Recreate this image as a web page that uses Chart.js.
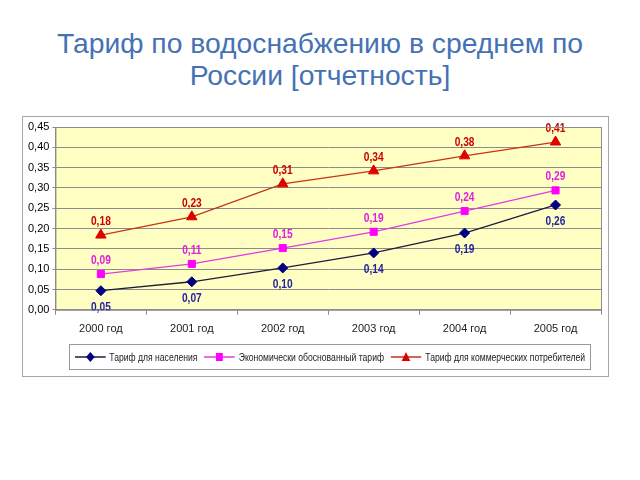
<!DOCTYPE html>
<html>
<head>
<meta charset="utf-8">
<script src="https://cdn.jsdelivr.net/npm/chart.js@4/dist/chart.umd.min.js"></script>
<style>
  body { margin: 0; width: 640px; height: 480px; background: #fff; font-family: "Liberation Sans", Arial, sans-serif; position: relative; overflow: hidden; }
  #title { position: absolute; left: 0; top: 27px; width: 640px; text-align: center; color: #4472b4; font-size: 28.3px; line-height: 32px; }
  #box { position: absolute; left: 22px; top: 116px; width: 585px; height: 259px; border: 1px solid #a6a6a6; background: #fff; }
  #legend { position: absolute; left: 46px; top: 227px; width: 520px; height: 24px; border: 1px solid #999; font-size: 10px; color: #222; }
  #legendInner { position: absolute; left: 50%; top: 50%; transform: translate(-50%, -50%) scaleX(0.86); display: flex; align-items: center; white-space: nowrap; }
  #legend span.item { display: inline-flex; align-items: center; margin: 0 4px; }
  #legend svg { margin-right: 4px; }
</style>
</head>
<body>
<div id="title">Тариф по водоснабжению в среднем по<br>России [отчетность]</div>
<div id="box">
  <canvas id="chart" width="585" height="259"></canvas>
  <div id="legend"><div id="legendInner"></div></div>
</div>
<script>
  const years = ["2000 год", "2001 год", "2002 год", "2003 год", "2004 год", "2005 год"]
  const tariffPopulation = [0.047, 0.069, 0.103, 0.140, 0.189, 0.258]
  const tariffEconomic = [0.088, 0.113, 0.152, 0.192, 0.243, 0.294]
  const tariffCommercial = [0.184, 0.229, 0.310, 0.342, 0.379, 0.413]
  const seriesNames = ["Тариф для населения", "Экономически обоснованный тариф", "Тариф для коммерческих  потребителей"]

  function fmt(v) { return v.toFixed(2).replace(".", ",") }

  const plotBg = {
    id: "plotBg",
    beforeDraw(chart) {
      const a = chart.chartArea, ctx = chart.ctx
      ctx.save()
      ctx.fillStyle = "#ffffc4"
      ctx.fillRect(a.left, a.top, a.right - a.left, a.bottom - a.top)
      ctx.restore()
    },
    afterDraw(chart) {
      const a = chart.chartArea, ctx = chart.ctx
      ctx.save()
      ctx.strokeStyle = "#8c8c8c"
      ctx.lineWidth = 1
      ctx.strokeRect(a.left + 0.5, a.top + 0.5, a.right - a.left, a.bottom - a.top)
      ctx.restore()
    }
  }

  const valueLabels = {
    id: "valueLabels",
    afterDatasetsDraw(chart) {
      const ctx = chart.ctx
      ctx.save()
      ctx.font = "bold 12px 'Liberation Sans', Arial"
      ctx.textAlign = "center"
      chart.data.datasets.forEach((ds, i) => {
        const meta = chart.getDatasetMeta(i)
        ctx.fillStyle = ds.labelColor
        meta.data.forEach((pt, j) => {
          const dy = ds.labelBelow ? 17 : -10
          ctx.textBaseline = ds.labelBelow ? "middle" : "alphabetic"
          ctx.save()
          ctx.translate(pt.x, pt.y + dy)
          ctx.scale(0.85, 1)
          ctx.fillText(fmt(ds.data[j]), 0, 0)
          ctx.restore()
        })
      })
      ctx.restore()
    }
  }

  const datasets = [
    {
      label: seriesNames[0], data: tariffPopulation,
      borderColor: "#1c1c3c", backgroundColor: "#000080",
      pointBorderColor: "#000080", pointStyle: "rectRot", pointRadius: 5,
      labelColor: "#2424a0", labelBelow: true, marker: "diamond"
    },
    {
      label: seriesNames[1], data: tariffEconomic,
      borderColor: "#e03ce0", backgroundColor: "#ff00ff",
      pointBorderColor: "#ff00ff", pointStyle: "rect", pointRadius: 5,
      labelColor: "#e020e0", labelBelow: false, marker: "square"
    },
    {
      label: seriesNames[2], data: tariffCommercial,
      borderColor: "#c8321e", backgroundColor: "#e00000",
      pointBorderColor: "#e00000", pointStyle: "triangle", pointRadius: 6,
      labelColor: "#cc0000", labelBelow: false, marker: "triangle"
    }
  ]
  datasets.forEach(d => { d.borderWidth = 1.3; d.tension = 0; d.fill = false; d.pointBorderWidth = 1 })

  new Chart(document.getElementById("chart").getContext("2d"), {
    type: "line",
    data: { labels: years, datasets: datasets },
    options: {
      responsive: false,
      animation: false,
      layout: { padding: { left: 2, right: 0, top: 10, bottom: 32 } },
      plugins: { legend: { display: false }, title: { display: false }, tooltip: { enabled: false } },
      scales: {
        y: {
          min: 0, max: 0.45,
          ticks: { stepSize: 0.05, color: "#000", font: { size: 11, family: "'Liberation Sans', Arial" }, callback: v => fmt(v), padding: 3 },
          grid: { color: "#8c8c8c", drawTicks: true, tickLength: 3 },
          border: { color: "#8c8c8c" }
        },
        x: {
          offset: true,
          ticks: { color: "#222", font: { size: 11, family: "'Liberation Sans', Arial" }, padding: 8 },
          grid: { offset: true, drawOnChartArea: false, drawTicks: true, tickLength: 5, color: "#8c8c8c" },
          border: { color: "#8c8c8c" }
        }
      }
    },
    plugins: [plotBg, valueLabels]
  })

  function markerSvg(ds) {
    let m = ""
    const c = ds.backgroundColor
    if (ds.marker === "diamond") m = '<polygon points="18,1 23,6 18,11 13,6" fill="' + c + '"/>'
    if (ds.marker === "square") m = '<rect x="14" y="2" width="8" height="8" fill="' + c + '"/>'
    if (ds.marker === "triangle") m = '<polygon points="18,1 23,10 13,10" fill="' + c + '"/>'
    return '<svg width="36" height="12"><line x1="0" y1="6" x2="36" y2="6" stroke="' + ds.borderColor + '" stroke-width="1.3"/>' + m + '</svg>'
  }
  document.getElementById("legendInner").innerHTML = datasets.map(ds =>
    '<span class="item">' + markerSvg(ds) + '<span>' + ds.label + '</span></span>').join("")
</script>
</body>
</html>
